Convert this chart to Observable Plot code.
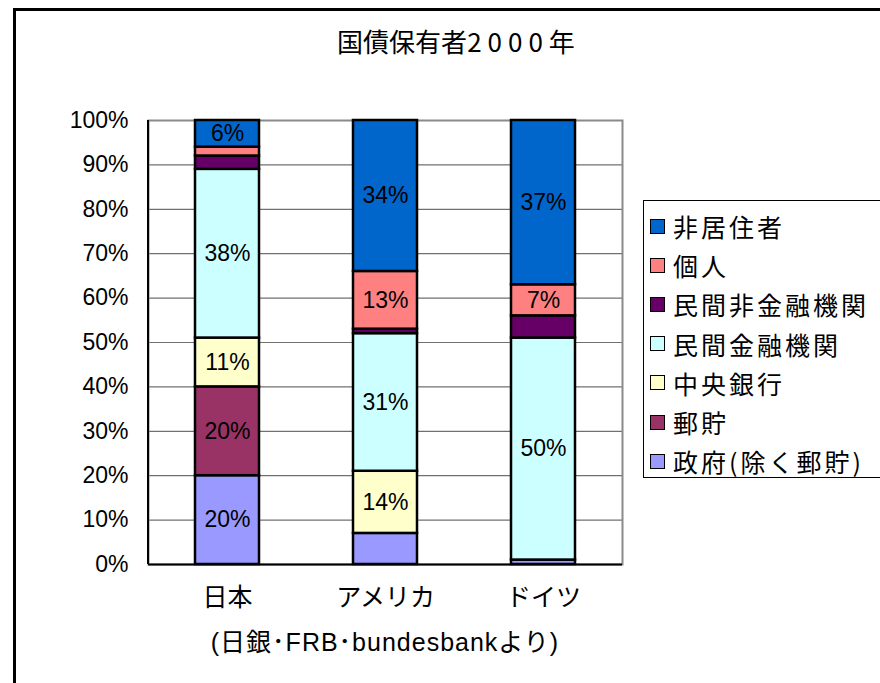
<!DOCTYPE html>
<html>
<head>
<meta charset="utf-8">
<script src="https://cdn.jsdelivr.net/npm/d3@7"></script>
<script src="https://cdn.jsdelivr.net/npm/@observablehq/plot@0.6"></script>
<style>
  html, body { margin: 0; padding: 0; background: #fff; }
  #wrap { position: relative; width: 880px; height: 683px; overflow: hidden; font-family: "Liberation Sans", "Noto Sans CJK JP", sans-serif; }
  #frame { position: absolute; left: 13px; top: 8px; width: 900px; height: 700px; border-left: 3px solid #000; border-top: 3px solid #000; box-sizing: border-box; }
  #title { position: absolute; left: 0; width: 912px; top: 22px; text-align: center; font-size: 26px; font-family: "Noto Sans CJK JP", sans-serif; }
  #title .d { letter-spacing: 6px; }
  #chart { position: absolute; left: 0; top: 0; }
  #caption { position: absolute; left: 148px; width: 474px; top: 622px; text-align: center; font-size: 25px; letter-spacing: 1px; }
  #legend { position: absolute; left: 643px; top: 200px; width: 260px; height: 278px; border: 1px solid #000; box-sizing: border-box; font-family: "Noto Sans CJK JP", sans-serif; }
  .li { position: absolute; left: 6px; height: 30px; display: flex; align-items: center; font-size: 25px; letter-spacing: 3px; white-space: nowrap; }
  .sw { width: 13px; height: 13px; border: 1.5px solid #000; margin-right: 8px; flex: none; }
</style>
</head>
<body>
<div id="wrap">
  <div id="frame"></div>
  <div id="chart"></div>
  <div id="title">国債保有者<span class="d">2000</span>年</div>
  <div id="legend"></div>
  <div id="caption">(日銀･FRB･bundesbankより)</div>
</div>
<script>
// Categories (x) and series (stacked bottom to top)
const countries = ["日本", "アメリカ", "ドイツ"];
const series = ["政府(除く郵貯)", "郵貯", "中央銀行", "民間金融機関", "民間非金融機関", "個人", "非居住者"];
const colors = ["#9999FF", "#993366", "#FFFFCC", "#CCFFFF", "#660066", "#FF8080", "#0066CC"];

// Shares (%) per series, bottom to top
const japan   = [20, 20, 11, 38, 3, 2, 6];
const america = [7, 0, 14, 31, 1, 13, 34];
const germany = [1, 0, 0, 50, 5, 7, 37];

// Data labels shown on the chart (null = no label)
const japanLabels   = [20, 20, 11, 38, null, null, 6];
const americaLabels = [null, null, 14, 31, null, 13, 34];
const germanyLabels = [null, null, null, 50, null, 7, 37];

const yTicks = [0, 10, 20, 30, 40, 50, 60, 70, 80, 90, 100];

const values = [japan, america, germany];
const labels = [japanLabels, americaLabels, germanyLabels];
const data = [];
countries.forEach((c, i) => {
  series.forEach((s, j) => {
    data.push({country: c, series: s, value: values[i][j], label: labels[i][j]});
  });
});

const font = "Liberation Sans, Noto Sans CJK JP, sans-serif";

const chart = Plot.plot({
  width: 880,
  height: 683,
  marginLeft: 148,
  marginRight: 258,
  marginTop: 120,
  marginBottom: 119,
  style: {fontFamily: font, background: "transparent", overflow: "visible"},
  x: {domain: countries, paddingInner: 0.595, paddingOuter: 0.2975, label: null},
  y: {domain: [0, 100], label: null},
  color: {domain: series, range: colors},
  marks: [
    Plot.gridY(yTicks, {stroke: "#707070", strokeOpacity: 1, strokeWidth: 1.2}),
    Plot.frame({stroke: "#8a8a8a", strokeWidth: 2}),
    Plot.barY(data, Plot.stackY({
      filter: d => d.value > 0,
      x: "country", y: "value", fill: "series", order: null,
      stroke: "#000", strokeWidth: 2.5
    })),
    Plot.text(data, Plot.stackY({
      x: "country", y: "value", z: "series", order: null,
      text: d => d.label == null ? "" : d.label + "%",
      fontSize: 23, fill: "#000"
    })),
    Plot.ruleY([0], {stroke: "#000", strokeWidth: 2}),
    (index, scales, values, dims) => {
      const g = d3.create("svg:line")
        .attr("x1", dims.marginLeft).attr("x2", dims.marginLeft)
        .attr("y1", dims.marginTop).attr("y2", dims.height - dims.marginBottom)
        .attr("stroke", "#000").attr("stroke-width", 2);
      return g.node();
    },
    Plot.axisY({ticks: yTicks, tickFormat: d => d + "%", tickSize: 0, tickPadding: 20, fontSize: 23, label: null}),
    Plot.axisX({tickSize: 0, tickPadding: 24, fontSize: 25, label: null, fontFamily: "Noto Sans CJK JP, sans-serif"})
  ]
});
document.getElementById("chart").appendChild(chart);

// Legend (top to bottom = reverse stacking order)
const legend = document.getElementById("legend");
series.slice().reverse().forEach((s, k) => {
  const idx = series.indexOf(s);
  const row = document.createElement("div");
  row.className = "li";
  row.style.top = (10 + k * 39.2) + "px";
  const sw = document.createElement("span");
  sw.className = "sw";
  sw.style.background = colors[idx];
  row.appendChild(sw);
  row.appendChild(document.createTextNode(s));
  legend.appendChild(row);
});
</script>
</body>
</html>
